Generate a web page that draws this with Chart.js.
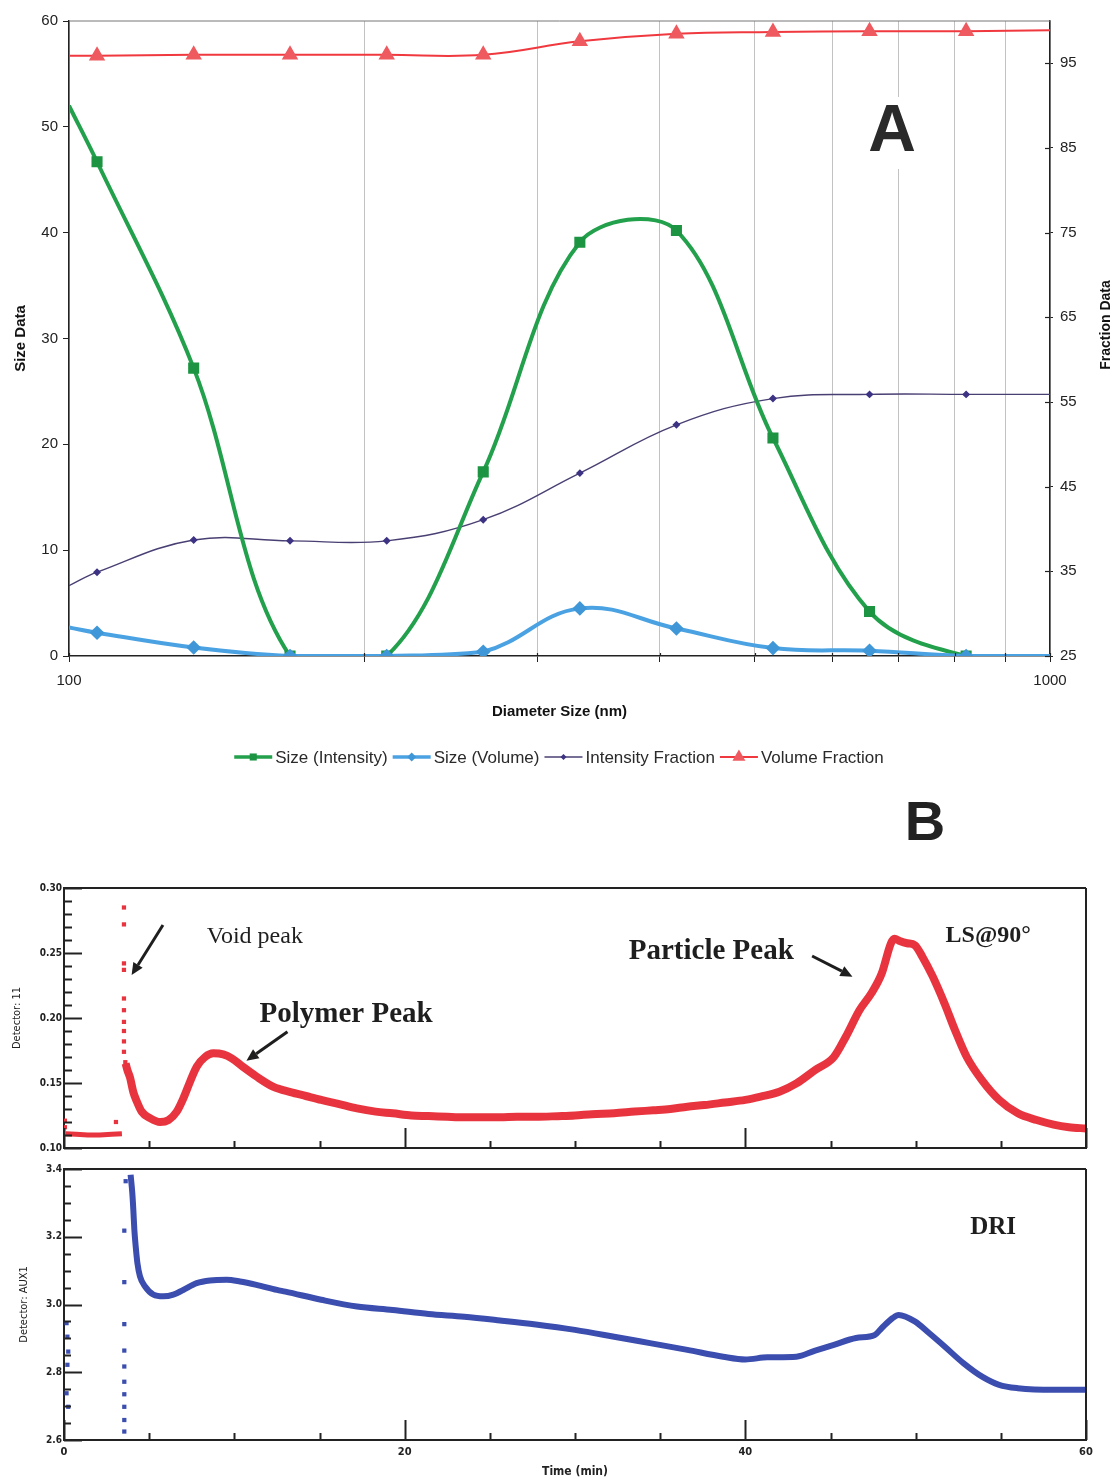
<!DOCTYPE html>
<html>
<head>
<meta charset="utf-8">
<script src="https://cdn.jsdelivr.net/npm/chart.js@4.4.1/dist/chart.umd.min.js"></script>
<style>
  body { margin: 0; background: #fff; }
  #page { position: relative; width: 1116px; height: 1483px; overflow: hidden; }
  canvas { position: absolute; left: 0; }
</style>
</head>
<body>
<div id="page">
  <canvas id="sizeChart" width="1116" height="790" style="top:0"></canvas>
  <canvas id="lsChart" width="1116" height="370" style="top:790px"></canvas>
  <canvas id="driChart" width="1116" height="323" style="top:1160px"></canvas>
</div>
<script>
// ---------- A: size distribution (log diameter) ----------
const diameters = [100, 106.8, 134.0, 168.0, 210.8, 264.4, 331.7, 416.1, 521.9, 654.7, 821.3, 1000];
const sizeIntensity = [52.0, 46.7, 27.2, 0, 0, 17.4, 39.1, 40.2, 20.6, 4.2, 0, 0];
const sizeVolume = [2.7, 2.2, 0.8, 0, 0, 0.4, 4.5, 2.6, 0.75, 0.5, 0, 0];
const intensityFraction = [33.3, 34.9, 38.7, 38.6, 38.6, 41.1, 46.6, 52.3, 55.4, 55.9, 55.9, 55.9];
const volumeFraction = [95.9, 95.9, 96.0, 96.0, 96.0, 96.0, 97.6, 98.5, 98.7, 98.8, 98.8, 98.9];
const diameterTicks = [100, 200, 300, 400, 500, 600, 700, 800, 900, 1000];
const diameterLabels = [100, 1000];
const fractionTicks = [25, 35, 45, 55, 65, 75, 85, 95];

// ---------- B: GPC traces vs elution time ----------
const lsLeadTime = [0.1, 0.7, 1.4, 2.1, 2.8, 3.4];
const lsLeadSignal = [0.111, 0.1105, 0.110, 0.110, 0.1105, 0.111];
const lsDotTime = [0.05, 0.05, 3.05, 3.52, 3.52, 3.52, 3.52, 3.52, 3.52, 3.52, 3.52, 3.52, 3.52, 3.6];
const lsDotSignal = [0.121, 0.116, 0.120, 0.285, 0.272, 0.242, 0.237, 0.215, 0.206, 0.197, 0.190, 0.182, 0.174, 0.166];
const lsTime = [3.62, 3.72, 3.88, 4.07, 4.27, 4.56, 5.05, 5.64, 6.13, 6.62,
  7.0, 7.4, 7.79, 8.28, 8.77, 9.35, 9.85, 10.5, 11.3, 12.3,
  13.3, 14.2, 15.1, 16.1, 17.2, 18.3, 19.3, 20.4, 21.4, 22.5,
  23.5, 24.5, 25.6, 26.6, 27.7, 29.0, 30.0, 31.0, 32.3, 33.5,
  34.6, 35.6, 36.6, 37.6, 38.8, 40.0, 40.9, 42.0, 43.0, 44.1,
  45.2, 45.9, 46.7, 47.4, 48.0, 48.55, 48.75, 49.1, 49.5, 49.95,
  50.4, 51.0, 51.7, 52.3, 53.0, 53.9, 54.9, 56.0, 57.1, 58.1,
  59.0, 60.0];
const lsSignal = [0.165, 0.160, 0.154, 0.143, 0.136, 0.128, 0.123, 0.120, 0.1215, 0.128,
  0.138, 0.151, 0.1625, 0.170, 0.1728, 0.172, 0.169, 0.1625, 0.155, 0.147,
  0.143, 0.140, 0.137, 0.134, 0.1305, 0.128, 0.1267, 0.125, 0.1246, 0.124,
  0.1236, 0.1236, 0.1236, 0.124, 0.124, 0.1245, 0.125, 0.126, 0.1267, 0.128,
  0.129, 0.130, 0.1318, 0.133, 0.135, 0.137, 0.1395, 0.1433, 0.1497, 0.160,
  0.170, 0.1856, 0.206, 0.219, 0.234, 0.2575, 0.261, 0.259, 0.2575, 0.256,
  0.247, 0.232, 0.211, 0.191, 0.170, 0.152, 0.137, 0.1267, 0.1215, 0.118,
  0.116, 0.115];

const driDotTime = [0.15, 0.2, 0.25, 0.2, 0.15, 0.25, 3.54, 3.54, 3.54, 3.54, 3.54, 3.54, 3.54, 3.54, 3.54, 3.54, 3.62];
const driDotSignal = [2.945, 2.905, 2.861, 2.822, 2.738, 2.698, 3.218, 3.066, 2.942, 2.864, 2.817, 2.772, 2.735, 2.698, 2.659, 2.625, 3.364];
const driTime = [3.91, 4.01, 4.07, 4.13, 4.21, 4.31, 4.46, 4.76, 5.25, 5.83,
  6.42, 7.0, 7.79, 8.57, 9.55, 10.33, 11.3, 12.5, 13.0, 15.1,
  17.2, 19.3, 21.4, 23.5, 25.6, 27.7, 30.0, 32.3, 34.4,
  36.6, 38.7, 40.0, 41.3, 43.0, 44.1, 45.2, 46.5, 47.6, 48.0,
  48.65, 49.0, 49.95, 50.8, 51.7, 52.8, 53.9, 54.9, 56.0, 58.1,
  60.0];
const driSignal = [3.383, 3.329, 3.28, 3.221, 3.171, 3.122, 3.083, 3.053, 3.029, 3.024,
  3.029, 3.043, 3.063, 3.071, 3.073, 3.068, 3.058, 3.043, 3.038, 3.014,
  2.994, 2.984, 2.972, 2.964, 2.953, 2.941, 2.925, 2.905, 2.886,
  2.866, 2.846, 2.838, 2.844, 2.846, 2.864, 2.881, 2.901, 2.910, 2.930,
  2.960, 2.969, 2.950, 2.915, 2.876, 2.827, 2.787, 2.763, 2.753, 2.748,
  2.748];

const timeLabels = [0, 20, 40, 60];
const timeMinor = [5, 10, 15, 25, 30, 35, 45, 50, 55];
const lsTicks = [0.10, 0.15, 0.20, 0.25, 0.30];
const lsMinor = [0.11, 0.12, 0.13, 0.14, 0.16, 0.17, 0.18, 0.19, 0.21, 0.22, 0.23, 0.24, 0.26, 0.27, 0.28, 0.29];
const driTicks = [2.6, 2.8, 3.0, 3.2, 3.4];
const driMinor = [2.65, 2.7, 2.75, 2.85, 2.9, 2.95, 3.05, 3.1, 3.15, 3.25, 3.3, 3.35];

const SANS = '"Liberation Sans", Arial, sans-serif';
const SERIF = '"Liberation Serif", "Times New Roman", serif';
const PIXEL = '"DejaVu Sans Condensed", "DejaVu Sans", sans-serif';
const INK = '#1e1e1e';

const pairs = (xs, ys) => xs.map((x, i) => ({ x, y: ys[i] }));
// end points at 100 and 1000 carry the line but no marker
const innerRadius = r => ctx => (ctx.dataIndex === 0 || ctx.dataIndex === diameters.length - 1) ? 0 : r;

function drawMarker(ctx, style, r, x, y) {
  ctx.beginPath();
  if (style === 'rect') {
    const s = Math.SQRT1_2 * r;
    ctx.rect(x - s, y - s, 2 * s, 2 * s);
  } else if (style === 'rectRot') {
    ctx.moveTo(x, y - r); ctx.lineTo(x + r, y); ctx.lineTo(x, y + r); ctx.lineTo(x - r, y);
    ctx.closePath();
  } else if (style === 'triangle') {
    for (let k = 0; k < 3; k++) {
      const a = k * 2 * Math.PI / 3;
      const px = x + Math.sin(a) * r, py = y - Math.cos(a) * r;
      k ? ctx.lineTo(px, py) : ctx.moveTo(px, py);
    }
    ctx.closePath();
  }
  ctx.fill();
}

// line + marker legend drawn below the x axis
const lineLegend = {
  id: 'lineLegend',
  afterDraw(chart, args, opts) {
    const { ctx } = chart;
    ctx.save();
    ctx.font = opts.font;
    ctx.textBaseline = 'middle';
    const items = chart.data.datasets.slice().sort((a, b) => a.legendIndex - b.legendIndex);
    const widths = items.map(ds => opts.seg + opts.gap + ctx.measureText(ds.label).width);
    const total = widths.reduce((s, w) => s + w, 0) + opts.spacing * (items.length - 1);
    let x = opts.centerX - total / 2;
    items.forEach((ds, i) => {
      ctx.strokeStyle = ds.borderColor;
      ctx.lineWidth = ds.legendLineWidth;
      ctx.beginPath();
      ctx.moveTo(x, opts.y); ctx.lineTo(x + opts.seg, opts.y);
      ctx.stroke();
      ctx.fillStyle = ds.pointBackgroundColor;
      drawMarker(ctx, ds.pointStyle, ds.legendRadius, x + opts.seg / 2, opts.y);
      ctx.fillStyle = '#2a2a2a';
      ctx.fillText(ds.label, x + opts.seg + opts.gap, opts.y + 1);
      x += widths[i] + opts.spacing;
    });
    ctx.restore();
  }
};

// box edges that no axis draws
const frame = {
  id: 'frame',
  afterDatasetsDraw(chart, args, opts) {
    const { ctx, chartArea: a } = chart;
    ctx.save();
    ctx.strokeStyle = opts.color;
    ctx.lineWidth = opts.width;
    ctx.beginPath();
    if (opts.sides.includes('top')) { ctx.moveTo(a.left, a.top); ctx.lineTo(a.right, a.top); }
    if (opts.sides.includes('right')) { ctx.moveTo(a.right, a.top); ctx.lineTo(a.right, a.bottom); }
    ctx.stroke();
    ctx.restore();
  }
};

// tick marks pointing into the plot
const innerTicks = {
  id: 'innerTicks',
  afterDatasetsDraw(chart, args, opts) {
    const { ctx, chartArea: a } = chart;
    ctx.save();
    ctx.strokeStyle = opts.color;
    ctx.lineWidth = opts.width;
    for (const m of opts.marks) {
      const scale = chart.scales[m.axis];
      for (const v of m.values) {
        const p = Math.round(scale.getPixelForValue(v)) + 0.5;
        ctx.beginPath();
        if (scale.isHorizontal()) { ctx.moveTo(p, a.bottom); ctx.lineTo(p, a.bottom - m.len); }
        else if (scale.position === 'left') { ctx.moveTo(a.left, p); ctx.lineTo(a.left + m.len, p); }
        else { ctx.moveTo(a.right, p); ctx.lineTo(a.right - m.len, p); }
        ctx.stroke();
      }
    }
    ctx.restore();
  }
};

// big panel letters and the rotated right-hand axis title
const captions = {
  id: 'captions',
  beforeDatasetsDraw(chart, args, opts) {
    const { ctx } = chart;
    ctx.save();
    for (const c of opts.items) {
      ctx.font = c.font;
      ctx.textAlign = 'center';
      ctx.textBaseline = 'middle';
      if (c.clear) {
        const w = ctx.measureText(c.text).width;
        ctx.fillStyle = '#fff';
        ctx.fillRect(c.x - w / 2 - 6, c.y - c.clear / 2, w + 12, c.clear);
      }
      ctx.translate(c.x, c.y);
      ctx.rotate(c.rotate || 0);
      ctx.fillStyle = c.color || INK;
      ctx.fillText(c.text, 0, 0);
      ctx.setTransform(1, 0, 0, 1, 0, 0);
    }
    ctx.restore();
  }
};

// text labels and arrows placed in data coordinates
const notes = {
  id: 'notes',
  afterDatasetsDraw(chart, args, opts) {
    const { ctx } = chart;
    const sx = chart.scales.x, sy = chart.scales.y;
    ctx.save();
    ctx.fillStyle = INK;
    ctx.textAlign = 'center';
    ctx.textBaseline = 'middle';
    for (const n of opts.texts || []) {
      ctx.font = n.font;
      ctx.fillText(n.text, sx.getPixelForValue(n.t), sy.getPixelForValue(n.v));
    }
    ctx.strokeStyle = INK;
    ctx.lineWidth = 3;
    for (const r of opts.arrows || []) {
      const x1 = sx.getPixelForValue(r.from[0]), y1 = sy.getPixelForValue(r.from[1]);
      const x2 = sx.getPixelForValue(r.to[0]), y2 = sy.getPixelForValue(r.to[1]);
      const ang = Math.atan2(y2 - y1, x2 - x1);
      const hx = x2 - Math.cos(ang) * 12, hy = y2 - Math.sin(ang) * 12;
      ctx.beginPath();
      ctx.moveTo(x1, y1); ctx.lineTo(hx, hy);
      ctx.stroke();
      ctx.beginPath();
      ctx.moveTo(x2, y2);
      ctx.lineTo(hx + Math.sin(ang) * 5.5, hy - Math.cos(ang) * 5.5);
      ctx.lineTo(hx - Math.sin(ang) * 5.5, hy + Math.cos(ang) * 5.5);
      ctx.closePath();
      ctx.fill();
    }
    ctx.restore();
  }
};

const GREEN = '#22a04b', BLUE = '#4ba2e2', PURPLE = '#4a3f73', RED = '#f0383f';

new Chart(document.getElementById('sizeChart'), {
  type: 'line',
  data: {
    datasets: [
      {
        label: 'Size (Intensity)', data: pairs(diameters, sizeIntensity), yAxisID: 'y',
        borderColor: GREEN, pointBackgroundColor: '#1c9442', pointBorderColor: '#1c9442',
        borderWidth: 4, pointStyle: 'rect', pointRadius: innerRadius(5), tension: 0.35,
        order: 2, legendIndex: 0, legendLineWidth: 3.5, legendRadius: 5
      },
      {
        label: 'Size (Volume)', data: pairs(diameters, sizeVolume), yAxisID: 'y',
        borderColor: BLUE, pointBackgroundColor: '#3f97d8', pointBorderColor: '#3f97d8',
        borderWidth: 4, pointStyle: 'rectRot', pointRadius: innerRadius(4.5), tension: 0.4,
        order: 1, legendIndex: 1, legendLineWidth: 3.5, legendRadius: 4.5
      },
      {
        label: 'Intensity Fraction', data: pairs(diameters, intensityFraction), yAxisID: 'y1',
        borderColor: PURPLE, pointBackgroundColor: '#3d3384', pointBorderColor: '#3d3384',
        borderWidth: 1.4, pointStyle: 'rectRot', pointRadius: innerRadius(3), tension: 0.4,
        order: 3, legendIndex: 2, legendLineWidth: 1.4, legendRadius: 3
      },
      {
        label: 'Volume Fraction', data: pairs(diameters, volumeFraction), yAxisID: 'y1',
        borderColor: RED, pointBackgroundColor: '#ee5a5f', pointBorderColor: '#ee5a5f',
        borderWidth: 2, pointStyle: 'triangle', pointRadius: innerRadius(7.5), tension: 0.4,
        order: 4, legendIndex: 3, legendLineWidth: 2, legendRadius: 7.5
      }
    ]
  },
  options: {
    responsive: false,
    animation: false,
    layout: { padding: { top: 21, bottom: 69, left: 0, right: 0 } },
    plugins: {
      legend: { display: false },
      tooltip: { enabled: false },
      lineLegend: { font: '17px ' + SANS, y: 757, centerX: 559, seg: 38, gap: 3, spacing: 5 },
      frame: { sides: ['top'], color: '#777', width: 1 },
      innerTicks: {
        color: '#222', width: 1.2,
        marks: [{ axis: 'y1', values: fractionTicks, len: 5 }, { axis: 'x', values: diameterTicks, len: 3 }]
      },
      captions: {
        items: [
          { text: 'A', x: 892, y: 133, font: 'bold 66px ' + SANS, color: '#2a2a2a', clear: 72 },
          { text: 'Fraction Data', x: 1106, y: 325, font: 'bold 14px ' + SANS, rotate: -Math.PI / 2, color: '#111' }
        ]
      }
    },
    scales: {
      x: {
        type: 'logarithmic', min: 100, max: 1000,
        afterBuildTicks: s => { s.ticks = diameterTicks.map(v => ({ value: v })); },
        afterFit: s => { s.height = 65; },
        ticks: {
          autoSkip: false, maxRotation: 0, padding: 10, color: '#222',
          font: { family: SANS, size: 15 },
          callback: v => diameterLabels.includes(v) ? String(v) : ''
        },
        grid: { color: '#c2c2c2', lineWidth: 1, tickColor: '#222', tickLength: 6 },
        border: { color: '#222', width: 1.5 },
        title: { display: true, text: 'Diameter Size (nm)', color: '#111', padding: 0, font: { family: SANS, size: 15, weight: 'bold' } }
      },
      y: {
        position: 'left', min: 0, max: 60,
        afterFit: s => { s.width = 69; },
        ticks: { stepSize: 10, padding: 5, color: '#222', font: { family: SANS, size: 15 } },
        grid: { drawOnChartArea: false, tickLength: 6, tickColor: '#222' },
        border: { color: '#222', width: 1.5 },
        title: { display: true, text: 'Size Data', color: '#111', padding: { top: 12, bottom: 0 }, font: { family: SANS, size: 15, weight: 'bold' } }
      },
      y1: {
        position: 'right', min: 25, max: 100,
        afterBuildTicks: s => { s.ticks = fractionTicks.map(v => ({ value: v })); },
        afterFit: s => { s.width = 66; },
        ticks: { padding: 7, color: '#222', font: { family: SANS, size: 15 } },
        grid: { drawOnChartArea: false, tickLength: 3, tickColor: '#222' },
        border: { color: '#222', width: 1.5 }
      }
    }
  },
  plugins: [lineLegend, frame, innerTicks, captions]
});

// shared axis setup for the two stacked detector panels
function timeAxis(showLabels) {
  return {
    type: 'linear', min: 0, max: 60,
    afterBuildTicks: s => { s.ticks = timeLabels.map(v => ({ value: v })); },
    afterFit: s => { s.height = showLabels ? 43 : 12; },
    ticks: { display: showLabels, padding: 6, color: '#222', font: { family: PIXEL, size: 11, weight: 'bold' } },
    grid: { display: false, drawTicks: false },
    border: { color: '#222', width: 2 },
    title: { display: showLabels, text: 'Time (min)', color: '#222', padding: { top: 0, bottom: 4 }, font: { family: PIXEL, size: 12, weight: 'bold' } }
  };
}

function detectorAxis(ticks, digits, label, titlePad, min, max) {
  return {
    position: 'left', min, max,
    afterBuildTicks: s => { s.ticks = ticks.map(v => ({ value: v })); },
    afterFit: s => { s.width = 64; },
    ticks: { padding: 2, color: '#222', font: { family: PIXEL, size: 10, weight: 'bold' }, callback: v => v.toFixed(digits) },
    grid: { display: false, drawTicks: false },
    border: { color: '#222', width: 2 },
    title: { display: true, text: label, color: '#222', padding: { top: titlePad, bottom: 0 }, font: { family: PIXEL, size: 11 } }
  };
}

const LS_RED = '#e8343e', DRI_BLUE = '#3b4dae';

new Chart(document.getElementById('lsChart'), {
  type: 'line',
  data: {
    datasets: [
      { data: pairs(lsTime, lsSignal), borderColor: LS_RED, borderWidth: 8, pointRadius: 0, cubicInterpolationMode: 'monotone' },
      { data: pairs(lsLeadTime, lsLeadSignal), borderColor: LS_RED, borderWidth: 5, pointRadius: 0 },
      { data: pairs(lsDotTime, lsDotSignal), showLine: false, pointStyle: 'rect', pointRadius: 3, backgroundColor: LS_RED, borderColor: LS_RED, borderWidth: 0 }
    ]
  },
  options: {
    responsive: false,
    animation: false,
    layout: { padding: { top: 98, right: 30, left: 0, bottom: 0 } },
    plugins: {
      legend: { display: false },
      tooltip: { enabled: false },
      frame: { sides: ['top', 'right'], color: '#222', width: 2 },
      innerTicks: {
        color: '#222', width: 2,
        marks: [
          { axis: 'x', values: timeLabels, len: 20 }, { axis: 'x', values: timeMinor, len: 7 },
          { axis: 'y', values: lsTicks, len: 18 }, { axis: 'y', values: lsMinor, len: 8 }
        ]
      },
      captions: { items: [{ text: 'B', x: 925, y: 35, font: 'bold 56px ' + SANS, color: '#222' }] },
      notes: {
        texts: [
          { text: 'Void peak', t: 11.2, v: 0.2623, font: '24px ' + SERIF },
          { text: 'Polymer Peak', t: 16.56, v: 0.2023, font: 'bold 29px ' + SERIF },
          { text: 'Particle Peak', t: 38.0, v: 0.2515, font: 'bold 29px ' + SERIF },
          { text: 'LS@90°', t: 54.26, v: 0.263, font: 'bold 24px ' + SERIF }
        ],
        arrows: [
          { from: [5.81, 0.2715], to: [3.97, 0.233] },
          { from: [13.12, 0.1895], to: [10.71, 0.1672] },
          { from: [43.92, 0.2477], to: [46.29, 0.2318] }
        ]
      }
    },
    scales: {
      x: timeAxis(false),
      y: detectorAxis(lsTicks, 2, 'Detector: 11', 11, 0.10, 0.30)
    }
  },
  plugins: [frame, innerTicks, captions, notes]
});

new Chart(document.getElementById('driChart'), {
  type: 'line',
  data: {
    datasets: [
      { data: pairs(driTime, driSignal), borderColor: DRI_BLUE, borderWidth: 6, pointRadius: 0, cubicInterpolationMode: 'monotone' },
      { data: pairs(driDotTime, driDotSignal), showLine: false, pointStyle: 'rect', pointRadius: 3, backgroundColor: DRI_BLUE, borderColor: DRI_BLUE, borderWidth: 0 }
    ]
  },
  options: {
    responsive: false,
    animation: false,
    layout: { padding: { top: 9, right: 30, left: 0, bottom: 0 } },
    plugins: {
      legend: { display: false },
      tooltip: { enabled: false },
      frame: { sides: ['top', 'right'], color: '#222', width: 2 },
      innerTicks: {
        color: '#222', width: 2,
        marks: [
          { axis: 'x', values: timeLabels, len: 20 }, { axis: 'x', values: timeMinor, len: 7 },
          { axis: 'y', values: driTicks, len: 18 }, { axis: 'y', values: driMinor, len: 7 }
        ]
      },
      notes: { texts: [{ text: 'DRI', t: 54.55, v: 3.227, font: 'bold 25px ' + SERIF }] }
    },
    scales: {
      x: timeAxis(true),
      y: detectorAxis(driTicks, 1, 'Detector: AUX1', 18, 2.6, 3.4)
    }
  },
  plugins: [frame, innerTicks, notes]
});
</script>
</body>
</html>
